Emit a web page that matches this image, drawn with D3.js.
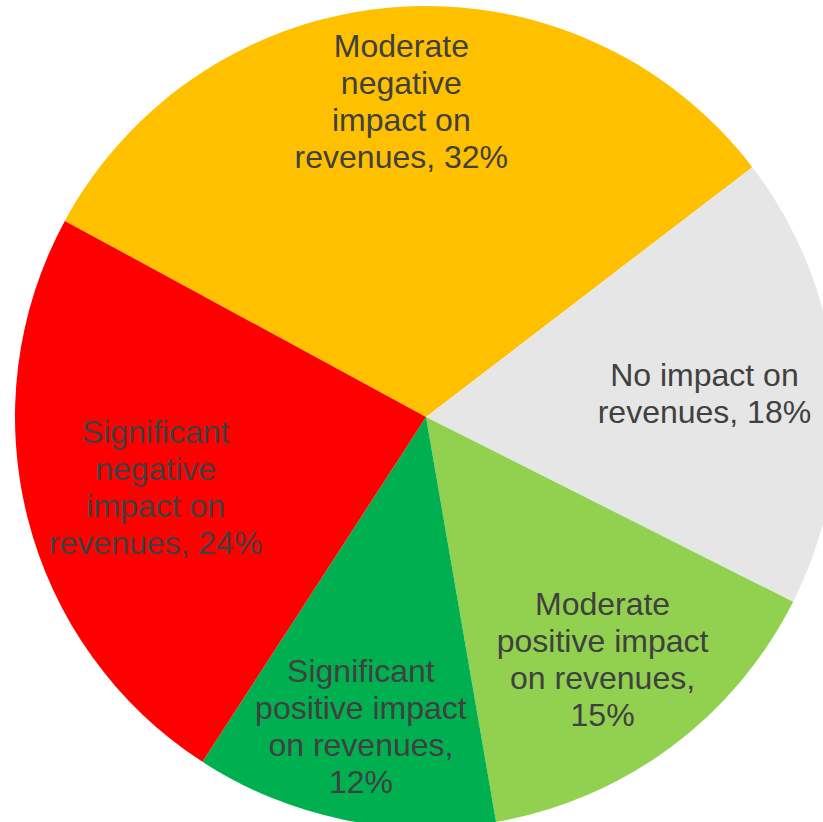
<!DOCTYPE html>
<html>
<head>
<meta charset="utf-8">
<script src="https://cdn.jsdelivr.net/npm/d3@7"></script>
<style>
  html, body { margin: 0; padding: 0; background: #ffffff; }
  svg { display: block; }
</style>
</head>
<body>
<svg id="chart" width="823" height="822"></svg>
<script>
// Revenue impact shares, in drawing order (clockwise)
const categories = [
  "Moderate negative impact on revenues",
  "No impact on revenues",
  "Moderate positive impact on revenues",
  "Significant positive impact on revenues",
  "Significant negative impact on revenues"
];
const values = [32, 18, 15, 12, 24];
const colors = ["#FFC000", "#E6E6E6", "#92D050", "#00B050", "#FF0000"];
// Wrapped label lines for each slice
const labelLines = [
  ["Moderate", "negative", "impact on", "revenues, 32%"],
  ["No impact on", "revenues, 18%"],
  ["Moderate", "positive impact", "on revenues,", "15%"],
  ["Significant", "positive impact", "on revenues,", "12%"],
  ["Significant", "negative", "impact on", "revenues, 24%"]
];
// Label placement: fraction of radius and angular nudge (degrees)
const labelRadius = [0.77, 0.68, 0.73, 0.77, 0.68];
const labelNudge = [0, 0.4, 0.5, 0.3, -0.4];

const width = 823, height = 822;
const cx = 426, cy = 417, R = 411;
const startDeg = -61.5;

const svg = d3.select("#chart");
const g = svg.append("g").attr("transform", `translate(${cx},${cy})`);

const toRad = d => d * Math.PI / 180;
const pie = d3.pie()
  .sort(null)
  .value(d => d.value)
  .startAngle(toRad(startDeg))
  .endAngle(toRad(startDeg) + 2 * Math.PI);

const data = categories.map((c, i) => ({ name: c, value: values[i], i }));
const arcs = pie(data);

const arc = d3.arc().innerRadius(0).outerRadius(R);

g.selectAll("path.slice")
  .data(arcs)
  .join("path")
  .attr("class", "slice")
  .attr("d", arc)
  .attr("fill", d => colors[d.data.i]);

const fontSize = 32, lineH = 37;
const labels = g.selectAll("text.label")
  .data(arcs)
  .join("text")
  .attr("class", "label")
  .attr("text-anchor", "middle")
  .attr("font-family", "'Liberation Sans', Arial, sans-serif")
  .attr("font-size", fontSize)
  .attr("fill", "#404040")
  .attr("transform", d => {
    const i = d.data.i;
    const mid = (d.startAngle + d.endAngle) / 2 + toRad(labelNudge[i]);
    const r = R * labelRadius[i];
    return `translate(${Math.sin(mid) * r},${-Math.cos(mid) * r})`;
  });

labels.each(function(d) {
  const lines = labelLines[d.data.i];
  const n = lines.length;
  const t = d3.select(this);
  lines.forEach((ln, k) => {
    t.append("tspan")
      .attr("x", 0)
      .attr("y", (k - (n - 1) / 2) * lineH)
      .attr("dy", "0.35em")
      .text(ln);
  });
});
</script>
</body>
</html>
